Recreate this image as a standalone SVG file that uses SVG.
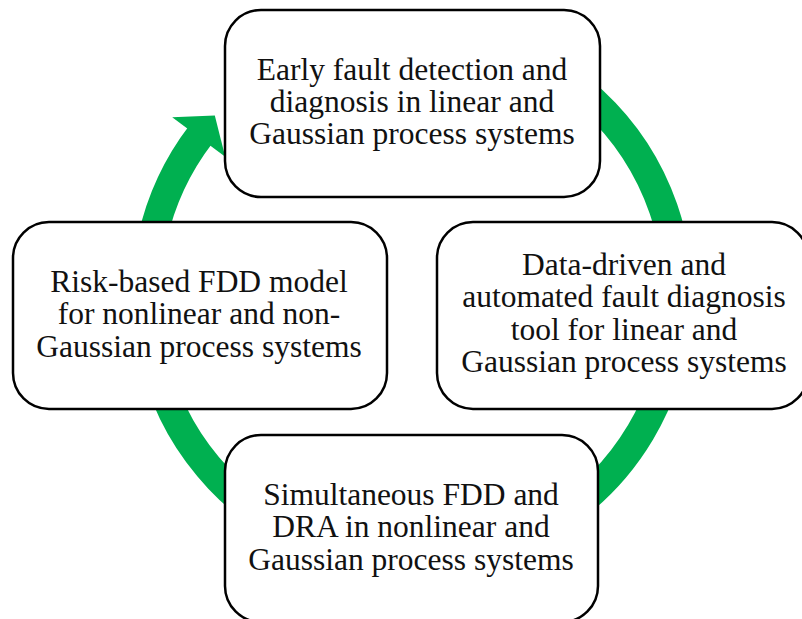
<svg xmlns="http://www.w3.org/2000/svg" width="802" height="619" viewBox="0 0 802 619">
  <style>
    .box { fill: #ffffff; stroke: #000000; stroke-width: 2.5; }
    .label { font-family: "Liberation Serif", "Times New Roman", serif; font-size: 31.5px; fill: #111111; text-anchor: middle; }
    .ring { fill: none; stroke: #00B050; stroke-width: 29; stroke-linecap: butt; }
    .head { fill: #00B050; stroke: none; }
  </style>
  <rect width="802" height="619" fill="#ffffff"/>

  <!-- circular cycle arrow (clockwise), drawn beneath the boxes -->
  <g id="connectors">
    <path class="ring" d="M 365.8 34 A 266 266 0 1 1 201.0 134.1"/>
    <polygon class="head" points="172.2,117.3 214.8,115.4 225.2,156.7"/>
  </g>

  <g id="node-top">
    <rect class="box" x="225" y="10" width="375" height="187" rx="36" ry="36"/>
    <text class="label" x="412" y="80">Early fault detection and</text>
    <text class="label" x="412" y="112">diagnosis in linear and</text>
    <text class="label" x="412" y="144">Gaussian process systems</text>
  </g>

  <g id="node-right">
    <rect class="box" x="437" y="222" width="371" height="187" rx="36" ry="36"/>
    <text class="label" x="624" y="275">Data-driven and</text>
    <text class="label" x="624" y="307">automated fault diagnosis</text>
    <text class="label" x="624" y="340">tool for linear and</text>
    <text class="label" x="624" y="372">Gaussian process systems</text>
  </g>

  <g id="node-left">
    <rect class="box" x="13" y="222" width="374" height="187" rx="36" ry="36"/>
    <text class="label" x="199" y="292">Risk-based FDD model</text>
    <text class="label" x="199" y="324">for nonlinear and non-</text>
    <text class="label" x="199" y="357">Gaussian process systems</text>
  </g>

  <g id="node-bottom">
    <rect class="box" x="225" y="435" width="373" height="187" rx="36" ry="36"/>
    <text class="label" x="411" y="505">Simultaneous FDD and</text>
    <text class="label" x="411" y="537">DRA in nonlinear and</text>
    <text class="label" x="411" y="570">Gaussian process systems</text>
  </g>
</svg>
